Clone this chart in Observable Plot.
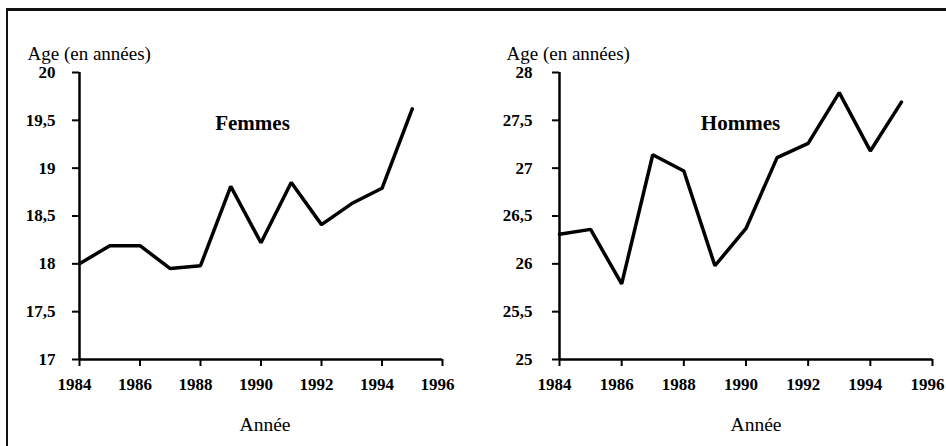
<!DOCTYPE html>
<html>
<head>
<meta charset="utf-8">
<script src="https://cdn.jsdelivr.net/npm/d3@7"></script>
<script src="https://cdn.jsdelivr.net/npm/@observablehq/plot@0.6"></script>
<style>
  html, body { margin: 0; padding: 0; background: #fff; }
  #wrap { position: relative; width: 946px; height: 446px; overflow: hidden; background: #fff; }
  #frame { position: absolute; left: 6px; top: 8px; width: 940px; height: 438px; border-left: 2px solid #111; border-top: 3px solid #111; box-sizing: border-box; }
  .panel { position: absolute; top: 0; }
  .panel, .panel text { font-family: "Liberation Serif", "Times New Roman", serif !important; }
  .panel g[aria-label="x-axis tick label"] text,
  .panel g[aria-label="y-axis tick label"] text { font-size: 17px !important; font-weight: bold !important; }
</style>
</head>
<body>
<div id="wrap"><div id="frame"></div></div>
<script>
const years = [1984, 1985, 1986, 1987, 1988, 1989, 1990, 1991, 1992, 1993, 1994, 1995];
const femmes = [18.0, 18.19, 18.19, 17.95, 17.98, 18.81, 18.22, 18.85, 18.41, 18.63, 18.79, 19.62];
const hommes = [26.31, 26.36, 25.79, 27.14, 26.97, 25.98, 26.37, 27.11, 27.26, 27.79, 27.18, 27.69];
const xTicks = [1984, 1986, 1988, 1990, 1992, 1994, 1996];
const yTicksFemmes = [17, 17.5, 18, 18.5, 19, 19.5, 20];
const yTicksHommes = [25, 25.5, 26, 26.5, 27, 27.5, 28];
const yLabel = "Age (en années)";
const xLabel = "Année";
const panelNames = ["Femmes", "Hommes"];

const font = "'Liberation Serif', 'Times New Roman', serif";

function panel(cfg) {
  const data = years.map((year, i) => ({year, value: cfg.values[i]}));
  const svg = Plot.plot({
    width: cfg.width,
    height: 446,
    marginLeft: cfg.marginLeft,
    marginRight: cfg.marginRight,
    marginTop: 72,
    marginBottom: 87,
    style: {fontFamily: font, fontSize: "17px", color: "#000", background: "transparent", overflow: "visible"},
    x: {domain: [1984, 1996]},
    y: {domain: [cfg.yTicks[0], cfg.yTicks[cfg.yTicks.length - 1]]},
    marks: [
      Plot.axisX({ticks: xTicks, tickFormat: () => "", tickSize: 7, tickPadding: 11, label: null, strokeWidth: 2}),
      Plot.axisX({ticks: xTicks, tickFormat: d => String(d), tickSize: 0, tickPadding: 18, label: null, fontWeight: "bold", fontSize: 17, dx: -5}),
      Plot.axisY({ticks: cfg.yTicks, tickFormat: d => String(d).replace(".", ","), tickSize: 7, tickPadding: cfg.yPad, label: null, fontWeight: "bold", fontSize: 17, strokeWidth: 2}),
      Plot.ruleX([1984], {stroke: "#000", strokeWidth: 2.5}),
      Plot.ruleY([cfg.yTicks[0]], {stroke: "#000", strokeWidth: 2.5}),
      Plot.line(data, {x: "year", y: "value", stroke: "#000", strokeWidth: 3.5, strokeLinejoin: "miter"}),
      Plot.text([yLabel], {text: d => d, frameAnchor: "top-left", dx: cfg.labelDx, dy: -26, textAnchor: "start", fontSize: 19}),
      Plot.text([cfg.name], {text: d => d, frameAnchor: "top-left", dx: cfg.nameDx, dy: 43, textAnchor: "middle", fontSize: 21, fontWeight: "bold"}),
      Plot.text([xLabel], {text: d => d, frameAnchor: "bottom", dx: cfg.xLabelDx, dy: 71, fontSize: 19.5})
    ]
  });
  svg.classList.add("panel");
  svg.setAttribute("font-family", font);
  svg.style.left = cfg.left + "px";
  return svg;
}

const wrap = document.getElementById("wrap");
wrap.appendChild(panel({
  values: femmes, yTicks: yTicksFemmes, name: panelNames[0],
  left: 0, width: 470, marginLeft: 79, marginRight: 28, yPad: 17,
  labelDx: -52, nameDx: 173, xLabelDx: 4
}));
wrap.appendChild(panel({
  values: hommes, yTicks: yTicksHommes, name: panelNames[1],
  left: 470, width: 476, marginLeft: 89, marginRight: 14, yPad: 20,
  labelDx: -53, nameDx: 181, xLabelDx: 10
}));
</script>
</body>
</html>
